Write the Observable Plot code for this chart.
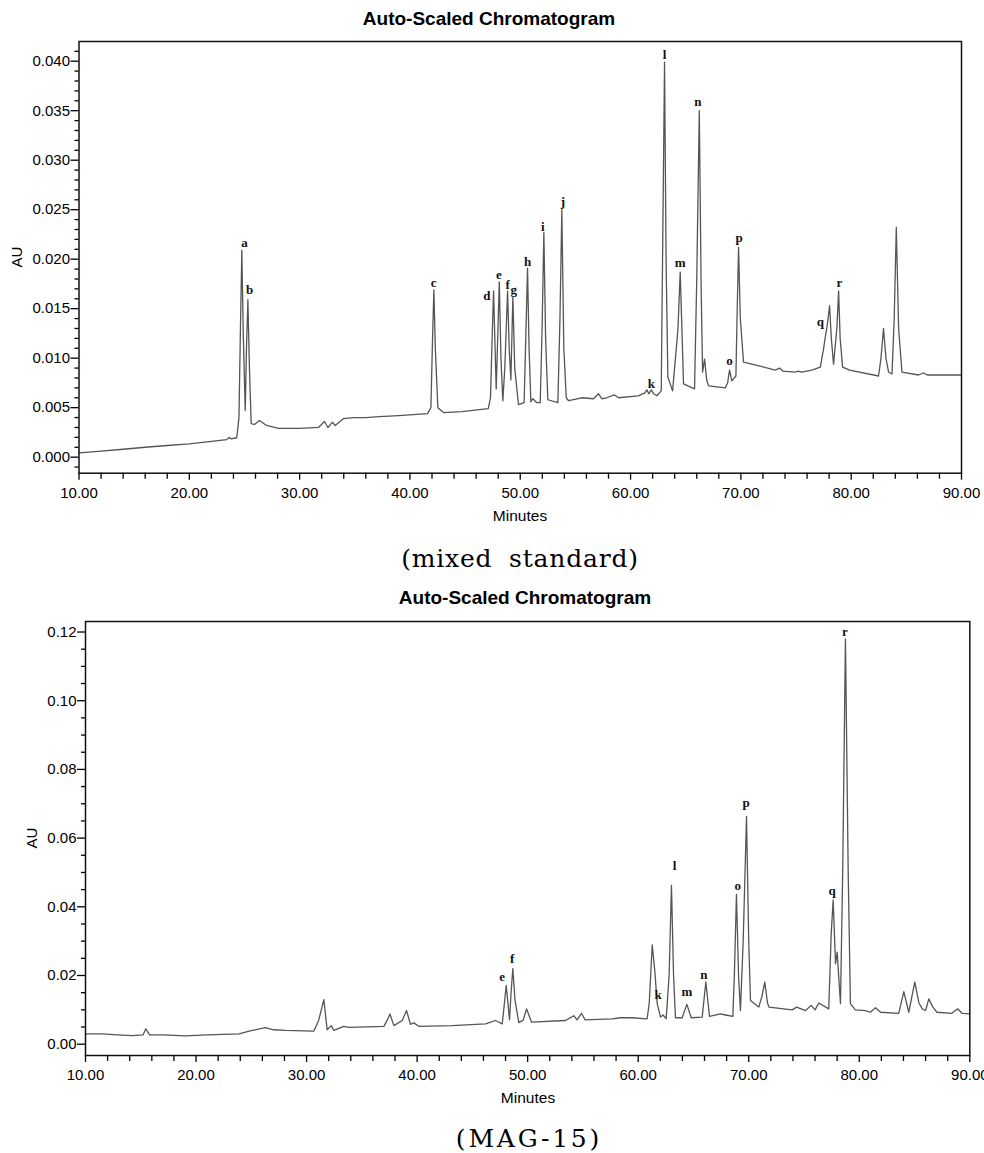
<!DOCTYPE html>
<html>
<head>
<meta charset="utf-8">
<script src="https://cdn.jsdelivr.net/npm/d3@7"></script>
<script src="https://cdn.jsdelivr.net/npm/@observablehq/plot@0.6"></script>
<style>
html, body { margin: 0; padding: 0; background: #fff; overflow: hidden; }
#page { position: relative; width: 984px; height: 1153px; }
.abs { position: absolute; white-space: nowrap; line-height: 1; color: #000; }
.title { font-family: "Liberation Sans", Arial, sans-serif; font-weight: bold; font-size: 19px; transform: translateX(-50%); }
.axlab { font-family: "Liberation Sans", Arial, sans-serif; font-size: 15.5px; transform: translateX(-50%); }
.ylab { font-family: "Liberation Sans", Arial, sans-serif; font-size: 15px; transform: translate(-50%, -50%) rotate(-90deg); }
.cap { font-family: "DejaVu Serif", "Liberation Serif", serif; font-size: 25px; transform: translateX(-50%); }
.chart { position: absolute; left: 0; }
</style>
</head>
<body>
<div id="page">
  <div class="abs title" style="left:489px; top:9px;">Auto-Scaled Chromatogram</div>
  <div class="chart" id="chart1" style="top:30px;"></div>
  <div class="abs ylab" style="left:16px; top:257px;">AU</div>
  <div class="abs axlab" style="left:520px; top:508px;">Minutes</div>
  <div class="abs cap" style="left:520px; top:546px; letter-spacing:0.8px; word-spacing:8px;">(mixed standard)</div>

  <div class="abs title" style="left:525px; top:588px;">Auto-Scaled Chromatogram</div>
  <div class="chart" id="chart2" style="top:610px;"></div>
  <div class="abs ylab" style="left:31px; top:838px;">AU</div>
  <div class="abs axlab" style="left:528px; top:1090px;">Minutes</div>
  <div class="abs cap" style="left:529px; top:1126px; letter-spacing:2.8px;">(MAG-15)</div>
</div>
<script>
// ---------- Mixed standard trace ----------
const stdTime = [10.0, 12.0, 14.0, 16.0, 18.0, 20.0, 22.0, 23.4, 23.6, 23.8, 24.3, 24.5, 24.62, 24.76, 24.9, 25.07, 25.18, 25.31, 25.45, 25.61,
  25.9, 26.36, 27.0, 28.1, 30.0, 31.7, 32.26, 32.56, 32.98, 33.22, 33.98, 34.9, 36.0, 37.2, 39.0, 41.6, 41.9, 42.05, 42.17, 42.3,
  42.53, 43.05, 44.7, 47.1, 47.3, 47.45, 47.58, 47.72, 47.82, 47.98, 48.1, 48.25, 48.42, 48.6, 48.85, 49.0, 49.15, 49.33, 49.5, 49.84,
  50.35, 50.5, 50.66, 50.8, 50.96, 51.14, 51.5, 51.81, 51.98, 52.14, 52.3, 52.5, 53.41, 53.6, 53.77, 53.95, 54.17, 54.38, 55.58, 56.64,
  57.1, 57.4, 57.85, 58.52, 58.9, 60.7, 61.3, 61.48, 61.65, 61.88, 62.1, 62.39, 62.78, 62.9, 63.08, 63.22, 63.38, 63.81, 64.3, 64.5,
  64.68, 64.8, 65.8, 66.0, 66.23, 66.4, 66.53, 66.71, 66.9, 67.07, 68.58, 68.8, 68.97, 69.18, 69.55, 69.65, 69.79, 69.95, 70.24, 71.0,
  73.12, 73.51, 73.8, 74.93, 75.2, 75.5, 76.44, 77.2, 77.5, 77.65, 77.85, 78.04, 78.2, 78.4, 78.7, 78.86, 79.0, 79.22, 79.85, 82.48,
  82.7, 82.93, 83.15, 83.39, 83.7, 83.9, 84.09, 84.3, 84.6, 86.11, 86.56, 86.9, 90.0];
const stdAU = [0.00044, 0.00060, 0.00080, 0.00100, 0.00118, 0.00135, 0.00160, 0.00178, 0.00200, 0.00185, 0.00196, 0.0040, 0.0120, 0.0209, 0.0120, 0.0047, 0.0110, 0.0159, 0.0090, 0.0034,
  0.0033, 0.0037, 0.0032, 0.0029, 0.0029, 0.0030, 0.0036, 0.0030, 0.00354, 0.0032, 0.0039, 0.0040, 0.0040, 0.0041, 0.0042, 0.0044, 0.0050, 0.0120, 0.0169, 0.0110,
  0.0050, 0.0045, 0.0046, 0.0049, 0.0060, 0.0120, 0.0168, 0.0110, 0.0069, 0.0130, 0.0177, 0.0100, 0.0057, 0.0090, 0.0168, 0.0110, 0.0078, 0.0162, 0.0090, 0.0053,
  0.0055, 0.0120, 0.0191, 0.0110, 0.0056, 0.0059, 0.0055, 0.0055, 0.0130, 0.0227, 0.0120, 0.0058, 0.0055, 0.0140, 0.0250, 0.0110, 0.0060, 0.0057, 0.0060, 0.0059,
  0.0064, 0.0059, 0.0060, 0.0063, 0.0060, 0.0062, 0.0065, 0.0068, 0.0064, 0.0068, 0.0064, 0.0062, 0.0067, 0.0200, 0.0399, 0.0200, 0.0081, 0.0067, 0.0130, 0.0187,
  0.0120, 0.0074, 0.0069, 0.0180, 0.0350, 0.0170, 0.0086, 0.0099, 0.0078, 0.0072, 0.0070, 0.0075, 0.0088, 0.0077, 0.0082, 0.0140, 0.0212, 0.0140, 0.0096, 0.0094,
  0.0088, 0.0090, 0.0087, 0.0086, 0.0087, 0.0086, 0.0088, 0.0091, 0.0110, 0.0121, 0.0135, 0.0153, 0.0120, 0.0094, 0.0130, 0.0168, 0.0120, 0.0091, 0.0088, 0.0082,
  0.0100, 0.0130, 0.0100, 0.0086, 0.0084, 0.0140, 0.0232, 0.0130, 0.0086, 0.0083, 0.0085, 0.0083, 0.0083];
const stdPeakNames = ["a", "b", "c", "d", "e", "f", "g", "h", "i", "j", "k", "l", "m", "n", "o", "p", "q", "r"];
const stdPeakTime = [25.0, 25.46, 42.14, 46.97, 48.06, 48.85, 49.42, 50.66, 52.05, 53.86, 61.88, 63.08, 64.5, 66.1, 68.97, 69.85, 77.2, 78.92];
const stdPeakAU = [0.0217, 0.0169, 0.01758, 0.01633, 0.01842, 0.01741, 0.0169, 0.01977, 0.0233, 0.02576, 0.00741, 0.04068, 0.0196, 0.03586, 0.00977, 0.02212, 0.0137, 0.01758];

// ---------- MAG-15 trace ----------
const magTime = [10.0, 11.5, 12.5, 14.2, 15.2, 15.46, 15.79, 17.0, 19.05, 21.0, 23.9, 24.8, 26.28, 27.0, 28.1, 30.65, 31.1, 31.56, 31.86, 32.23,
  32.46, 33.37, 33.82, 36.99, 37.3, 37.54, 37.9, 38.65, 39.04, 39.4, 39.7, 40.15, 43.17, 46.19, 47.09, 47.7, 47.9, 48.06, 48.36, 48.5,
  48.66, 48.85, 49.2, 49.6, 49.9, 50.35, 53.42, 54.17, 54.47, 54.87, 55.2, 57.65, 58.4, 59.46, 60.81, 61.0, 61.27, 61.5, 61.72, 62.02,
  62.25, 62.53, 62.8, 63.01, 63.2, 63.37, 63.98, 64.4, 64.8, 65.79, 66.12, 66.45, 67.45, 67.9, 68.56, 68.7, 68.89, 69.08, 69.25, 69.5,
  69.8, 70.0, 70.16, 70.91, 71.2, 71.45, 71.7, 71.83, 73.93, 74.33, 75.14, 75.65, 76.0, 76.34, 77.24, 77.46, 77.64, 77.85, 78.0, 78.3,
  78.5, 78.75, 79.0, 79.2, 79.65, 80.56, 81.0, 81.47, 81.93, 83.57, 84.03, 84.48, 85.02, 85.4, 85.7, 86.0, 86.29, 86.66, 87.03, 88.38,
  88.9, 89.3, 90.0];
const magAU = [0.0030, 0.0030, 0.0028, 0.0025, 0.0027, 0.0045, 0.0027, 0.0027, 0.0024, 0.0027, 0.0030, 0.0038, 0.0048, 0.0042, 0.0040, 0.0038, 0.0070, 0.0130, 0.0042, 0.0054,
  0.0040, 0.0052, 0.0049, 0.0052, 0.0070, 0.0088, 0.0054, 0.0069, 0.0098, 0.0058, 0.0062, 0.0052, 0.0054, 0.0059, 0.0069, 0.0059, 0.0120, 0.0171, 0.0071, 0.0150,
  0.0220, 0.0130, 0.0063, 0.0070, 0.0103, 0.0064, 0.0069, 0.0083, 0.0071, 0.0090, 0.0071, 0.0074, 0.0077, 0.0077, 0.0074, 0.0120, 0.0289, 0.0215, 0.0118, 0.0079,
  0.0085, 0.0074, 0.0200, 0.0462, 0.0200, 0.0077, 0.0077, 0.0116, 0.0077, 0.0079, 0.0181, 0.0081, 0.0088, 0.0085, 0.0081, 0.0200, 0.0436, 0.0200, 0.0098, 0.0300,
  0.0663, 0.0300, 0.0127, 0.0108, 0.0140, 0.0181, 0.0120, 0.0108, 0.0100, 0.0108, 0.0098, 0.0113, 0.0100, 0.0120, 0.0103, 0.0321, 0.0420, 0.0234, 0.0268, 0.0118,
  0.0500, 0.1180, 0.0500, 0.0118, 0.0100, 0.0098, 0.0093, 0.0106, 0.0093, 0.0090, 0.0153, 0.0093, 0.0181, 0.0120, 0.0103, 0.0098, 0.0132, 0.0108, 0.0093, 0.0090,
  0.0103, 0.0090, 0.0088];
const magPeakNames = ["e", "f", "k", "l", "m", "n", "o", "p", "q", "r"];
const magPeakTime = [47.7, 48.6, 61.8, 63.3, 64.4, 65.94, 69.0, 69.77, 77.55, 78.69];
const magPeakAU = [0.0197, 0.02486, 0.01447, 0.0518, 0.01514, 0.0202, 0.0462, 0.0702, 0.04475, 0.12];

// ---------- Axis ticks ----------
const xTicks = [10, 20, 30, 40, 50, 60, 70, 80, 90];
const xMinorTicks = [12, 14, 16, 18, 22, 24, 26, 28, 32, 34, 36, 38, 42, 44, 46, 48, 52, 54, 56, 58, 62, 64, 66, 68, 72, 74, 76, 78, 82, 84, 86, 88];
const stdYTicks = [0, 0.005, 0.010, 0.015, 0.020, 0.025, 0.030, 0.035, 0.040];
const stdYMinorTicks = [-0.001, 0.001, 0.002, 0.003, 0.004, 0.006, 0.007, 0.008, 0.009, 0.011, 0.012, 0.013, 0.014, 0.016, 0.017, 0.018, 0.019,
  0.021, 0.022, 0.023, 0.024, 0.026, 0.027, 0.028, 0.029, 0.031, 0.032, 0.033, 0.034, 0.036, 0.037, 0.038, 0.039, 0.041];
const magYTicks = [0, 0.02, 0.04, 0.06, 0.08, 0.10, 0.12];
const magYMinorTicks = [0.005, 0.010, 0.015, 0.025, 0.030, 0.035, 0.045, 0.050, 0.055, 0.065, 0.070, 0.075, 0.085, 0.090, 0.095, 0.105, 0.110, 0.115];

function rows(ts, vs) { return ts.map((t, i) => ({t, v: vs[i]})); }
function labelRows(names, ts, vs) { return names.map((n, i) => ({name: n, t: ts[i], v: vs[i]})); }

function chromatogram({trace, labels, yDomain, yTicks, yMinor, yFormat, marginLeft, marginRight, marginTop, marginBottom, height}) {
  return Plot.plot({
    width: 984,
    height,
    marginLeft, marginRight, marginTop, marginBottom,
    style: {fontFamily: "'Liberation Sans', Arial, sans-serif", fontSize: "15px", color: "#000", background: "transparent", overflow: "visible"},
    x: {domain: [10, 90]},
    y: {domain: yDomain},
    marks: [
      Plot.axisX(xTicks, {anchor: "bottom", tickSize: 7, tickPadding: 7, tickFormat: d3.format(".2f"), label: null, fontSize: 15, strokeWidth: 1.3}),
      Plot.axisX(xMinorTicks, {anchor: "bottom", tickSize: 6, tickFormat: () => "", label: null, strokeWidth: 1.3}),
      Plot.axisY(yTicks, {anchor: "left", tickSize: 8, tickPadding: 1, tickFormat: d3.format(yFormat), label: null, fontSize: 15, strokeWidth: 1.3}),
      Plot.axisY(yMinor, {anchor: "left", tickSize: 4, tickFormat: () => "", label: null, strokeWidth: 1.3}),
      Plot.line(trace, {x: "t", y: "v", stroke: "#555", strokeWidth: 1.3, strokeLinejoin: "round"}),
      Plot.text(labels, {x: "t", y: "v", text: "name", fontFamily: "'Liberation Serif', 'Times New Roman', serif", fontWeight: "bold", fontSize: 13, fill: "#111"}),
      Plot.frame({stroke: "#111", strokeWidth: 1.5})
    ]
  });
}

document.getElementById("chart1").append(chromatogram({
  trace: rows(stdTime, stdAU),
  labels: labelRows(stdPeakNames, stdPeakTime, stdPeakAU),
  yDomain: [-0.00162, 0.04199],
  yTicks: stdYTicks, yMinor: stdYMinorTicks, yFormat: ".3f",
  marginLeft: 78.5, marginRight: 23, marginTop: 11, marginBottom: 57.3, height: 500
}));

document.getElementById("chart2").append(chromatogram({
  trace: rows(magTime, magAU),
  labels: labelRows(magPeakNames, magPeakTime, magPeakAU),
  yDomain: [-0.00329, 0.12306],
  yTicks: magYTicks, yMinor: magYMinorTicks, yFormat: ".2f",
  marginLeft: 85, marginRight: 14.7, marginTop: 11, marginBottom: 55, height: 500
}));
</script>
</body>
</html>
